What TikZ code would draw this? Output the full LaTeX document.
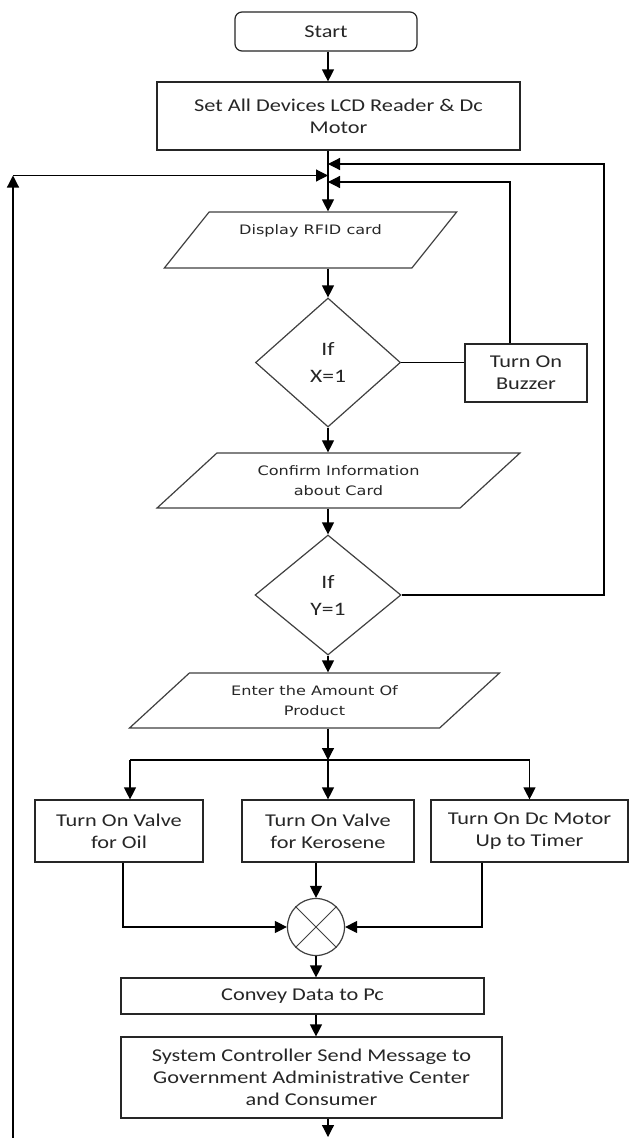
\documentclass[tikz,border=0pt]{standalone}
\usepackage{fontspec}
\setmainfont{Carlito}[FakeStretch=1.24]
\newfontfamily\cardfont{DejaVu Sans}[FakeStretch=1.24]
\usetikzlibrary{shapes.geometric,arrows.meta}
\begin{document}
\begin{tikzpicture}[x=1pt,y=-1pt,line width=1.2pt,
  arr/.style={-{Triangle[length=12pt,width=12pt]}},
  block/.style={draw=black!85,rectangle,align=center,inner sep=2pt,text=black!85,font=\fontsize{18}{22}\selectfont},
  term/.style={block,rounded corners=7pt},
  io/.style={draw=black!75,trapezium,trapezium stretches=true,align=center,inner sep=0pt,text=black!85,font=\cardfont\fontsize{13}{20}\selectfont},
  decision/.style={draw=black!75,diamond,align=center,inner sep=0pt,text=black!85,font=\fontsize{19}{27}\selectfont}]
\path[fill=white] (0,0) rectangle (630,1138);
\useasboundingbox (0,0) rectangle (630,1138);
% blocks
\node[term,minimum width=182pt,minimum height=39pt] (start) at (326,31.5) {Start};
\node[block,minimum width=363pt,minimum height=68pt] (setup) at (338.5,116) {Set All Devices LCD Reader \& Dc\\Motor};
\node[io,minimum width=293pt,minimum height=56pt,trapezium left angle=43.5,trapezium right angle=136.5] (rfid) at (310.5,240) {Display RFID card\\\mbox{}};
\node[decision,minimum width=145pt,minimum height=129pt] (ifx) at (328,362.5) {If\\X=1};
\node[block,minimum width=122pt,minimum height=58pt] (buzzer) at (526,373) {Turn On\\Buzzer};
\node[io,minimum width=363pt,minimum height=55pt,trapezium left angle=37,trapezium right angle=143] (confirm) at (338.5,480.5) {Confirm Information\\about Card};
\node[decision,minimum width=146pt,minimum height=120pt] (ify) at (328,595) {If\\Y=1};
\node[io,minimum width=371pt,minimum height=55pt,trapezium left angle=37,trapezium right angle=143] (amount) at (314.5,700.5) {Enter the Amount Of\\Product};
\node[block,minimum width=168pt,minimum height=62pt] (oil) at (119,831) {Turn On Valve\\for Oil};
\node[block,minimum width=172pt,minimum height=62pt] (kero) at (328,831) {Turn On Valve\\for Kerosene};
\node[block,minimum width=197pt,minimum height=62pt] (dcmotor) at (529.5,831) {Turn On Dc Motor\\Up to Timer};
\node[draw=black!75,circle,minimum size=57pt,inner sep=0pt] (mix) at (316,927) {};
\draw[line width=0.9pt,black!75] (mix.north west) -- (mix.south east) (mix.north east) -- (mix.south west);
\node[block,minimum width=363pt,minimum height=36pt] (convey) at (302.5,996) {Convey Data to Pc};
\node[block,minimum width=381pt,minimum height=81pt] (sysmsg) at (311.5,1077.5) {System Controller Send Message to\\Government Administrative Center\\and Consumer};
% turning points
\coordinate (col) at (328,0);
\coordinate (lc) at (13,175.5);
\coordinate (lbot) at (13,1138);
\coordinate (ret1) at (604,164);
\coordinate (ret2) at (510,182);
\coordinate (fork) at (328,760);
\coordinate (fo) at (130,760);
\coordinate (fd) at (529.5,760);
\coordinate (oo) at (123,0);
\coordinate (od) at (482,0);
\coordinate (outend) at (328,1137);
% connectors
\draw[arr] (start.south -| col) -- (setup.north -| col);
\draw[arr] (setup.south -| col) -- (rfid.north -| col);
\draw[arr] (lbot) -- (lc);
\draw[arr] (lc) -- (lc -| col);
\draw[arr] (ify.east) -| (ret1) -- (ret1 -| col);
\draw (ifx.east) -- (ifx.east -| buzzer.west);
\draw[arr] (buzzer.north -| ret2) -- (ret2) -- (ret2 -| col);
\draw[arr] (rfid.south -| col) -- (ifx.north);
\draw[arr] (ifx.south) -- (confirm.north -| ifx);
\draw[arr] (confirm.south -| ify) -- (ify.north);
\draw[arr] (ify.south) -- (amount.north -| ify);
\draw[arr] (amount.south -| fork) -- (fork);
\draw (fo) -- (fd);
\draw[arr] (fo) -- (fo |- oil.north);
\draw[arr] (fork) -- (kero.north);
\draw[arr] (fd) -- (dcmotor.north);
\draw[arr] (oil.south -| oo) |- (mix.west);
\draw[arr] (dcmotor.south -| od) |- (mix.east);
\draw[arr] (kero.south -| mix) -- (mix.north);
\draw[arr] (mix.south) -- (convey.north -| mix);
\draw[arr] (convey.south -| mix) -- (sysmsg.north -| mix);
\draw[arr] (sysmsg.south -| col) -- (outend);
\end{tikzpicture}
\end{document}
